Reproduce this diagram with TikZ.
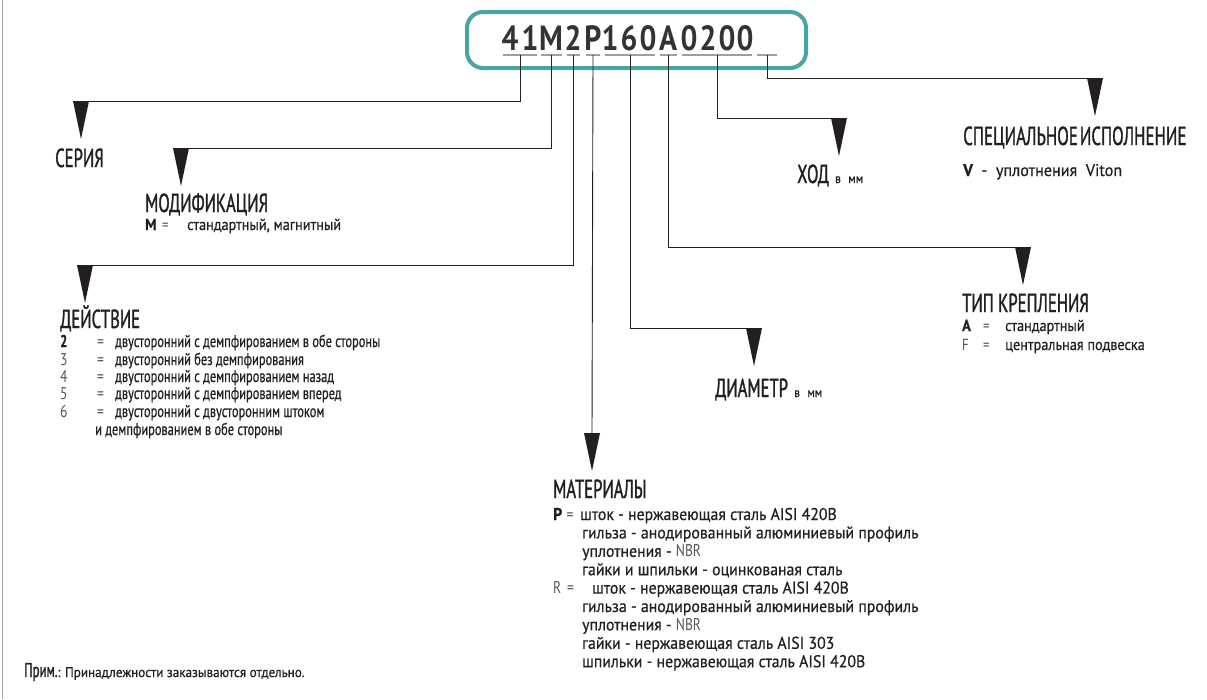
\documentclass[tikz,border=0pt]{standalone}
\usepackage{fontspec}
\setmainfont[FakeStretch=0.8]{PT Sans}
\newfontfamily\titlef[FakeStretch=0.64,FakeBold=1.2]{PT Sans}
\newfontfamily\specf[FakeStretch=0.65,FakeBold=1.2]{PT Sans}
\newfontfamily\codef[FakeStretch=0.85]{PT Sans}
\newfontfamily\actf[FakeStretch=0.73,FakeBold=0.6]{PT Sans}
\newfontfamily\matf[FakeStretch=0.93,FakeBold=0.6]{PT Sans}
\newfontfamily\modf[FakeStretch=0.89,FakeBold=0.6]{PT Sans}
\newfontfamily\vf[FakeStretch=0.95,FakeBold=0.6]{PT Sans}
\newfontfamily\primf[FakeStretch=0.94,FakeBold=0.6]{PT Sans}
\newfontfamily\lightf[FakeStretch=0.8]{PT Sans}
\definecolor{boxteal}{HTML}{49A5A1}
\definecolor{ink}{HTML}{231F20}
\definecolor{codeink}{HTML}{333333}
\definecolor{lightink}{HTML}{555555}
\newcommand\vmm{{\modf\fontsize{13}{13}\selectfont\ \ в\,\, мм}}
\newcommand\eqs{{\lightf\color{lightink}=}}
\begin{document}
\begin{tikzpicture}[x=1pt,y=-1pt,
  lbl/.style={anchor=base west,inner sep=0pt,text=ink},
  title/.style={lbl,text depth=0pt,font=\titlef\fontsize{26}{26}\selectfont},
  act/.style={lbl,font=\actf\fontsize{17}{17}\selectfont},
  mat/.style={lbl,font=\matf\fontsize{17}{17}\selectfont},
  modt/.style={lbl,font=\modf\fontsize{16}{16}\selectfont},
  conn/.style={draw=ink,line width=0.9pt},
  uline/.style={draw=gray!75,line width=1.2pt},
  tri/.pic={\fill[ink] (-8,0) -- (8,0) -- (0,38) -- cycle;},
  codech/.style={anchor=base,inner sep=0pt,font=\codef\bfseries\fontsize{35}{35}\selectfont,text=codeink}]
\useasboundingbox (0,0) rectangle (1207,699);
\draw[gray!70,line width=1.5pt] (2.5,0) -- (2.5,699);

% code box
\node[draw=boxteal,line width=4pt,rounded corners=16pt,minimum width=339pt,minimum height=56pt,inner sep=0pt] (codebox) at (636.5,40) {};
\foreach \c/\x [count=\i] in {4/510,1/530,M/551,2/573,P/593,1/610,6/629,0/648,A/668,0/689,2/708,0/727,0/745}
  \node[codech] (ch\i) at (\x,50) {\c};

% underlines and ticks
\foreach \a/\b/\n in {503/537/t1,541/562/t2,567/580/t3,586/600/t4,605/655/t5,660/677/t6,682/752/t7,757/777/t8}{
  \draw[uline] (\a,55) -- (\b,55);
  \coordinate (\n) at ({(\a+\b)/2},55);
}

% arrow positions
\coordinate (a1) at (81,101);
\coordinate (a2) at (181,148);
\coordinate (a3) at (85,265);
\coordinate (a4) at (592,433);
\coordinate (a5) at (754,328);
\coordinate (a6) at (1023,247);
\coordinate (a7) at (839,118);
\coordinate (a8) at (1095,78);

\draw[conn] (t1) |- (a1);
\draw[conn] (t2) |- (a2);
\draw[conn] (t3) |- (a3);
\draw[conn] (t4 |- t1) -- (a4);
\draw[conn] (t5) |- (a5);
\draw[conn] (t6) |- (a6);
\draw[conn] (t7) |- (a7);
\draw[conn] (t8) |- (a8);
\foreach \n in {a1,a2,a3,a4,a5,a6,a7,a8} \pic at (\n) {tri};

% labels
\node[title] (seria) at (55,167) {СЕРИЯ};

\node[title] (modif) at (145,212) {МОДИФИКАЦИЯ};
\node[modt] (modM) at (145,230) {\bfseries M};
\node[modt] (modE) at (162,230) {\eqs};
\node[modt] (modT) at (187,230) {стандартный, магнитный};

\node[title] (deyst) at (60,328) {ДЕЙСТВИЕ};
\node[act] (d2n) at (60,347) {\bfseries 2};
\node[act] (d3n) at (60,365) {\lightf\color{lightink}3};
\node[act] (d4n) at (60,382) {\lightf\color{lightink}4};
\node[act] (d5n) at (60,399) {\lightf\color{lightink}5};
\node[act] (d6n) at (60,417) {\lightf\color{lightink}6};
\foreach \y in {347,365,382,399,417} \node[act] at (97,\y) {\eqs};
\node[act] (d2) at (115,347) {двусторонний с демпфированием в обе стороны};
\node[act] (d3) at (115,365) {двусторонний без демпфирования};
\node[act] (d4) at (115,382) {двусторонний с демпфированием назад};
\node[act] (d5) at (115,399) {двусторонний с демпфированием вперед};
\node[act] (d6) at (115,417) {двусторонний с двусторонним штоком};
\node[act] (d6b) at (95,435) {и демпфированием в обе стороны};

\node[title] (mat) at (553,498) {МАТЕРИАЛЫ};
\node[mat] (mP) at (553,520) {\bfseries P};
\node[mat] at (566.5,520) {\eqs};
\node[mat] (mP1) at (580,520) {шток - нержавеющая сталь AISI 420B};
\node[mat] (mP2) at (582,538.4) {гильза - анодированный алюминиевый профиль};
\node[mat] (mP3) at (582,556.8) {уплотнения - {\lightf\color{lightink}NBR}};
\node[mat] (mP4) at (582,575.2) {гайки и шпильки - оцинкованая сталь};
\node[mat] (mR) at (553,593.6) {\lightf\color{lightink}R};
\node[mat] at (567,593.6) {\eqs};
\node[mat] (mR1) at (592,593.6) {шток - нержавеющая сталь AISI 420B};
\node[mat] (mR2) at (582,612) {гильза - анодированный алюминиевый профиль};
\node[mat] (mR3) at (582,630.4) {уплотнения - {\lightf\color{lightink}NBR}};
\node[mat] (mR4) at (582,648.8) {гайки - нержавеющая сталь AISI 303};
\node[mat] (mR5) at (582,667.2) {шпильки - нержавеющая сталь AISI 420B};

\node[title] (diam) at (715,397) {ДИАМЕТР\vmm};

\node[title] (tip) at (962,312) {ТИП КРЕПЛЕНИЯ};
\node[modt] (tA) at (962,331) {\bfseries A};
\node[modt] at (983,331) {\eqs};
\node[modt] (tA1) at (1005,331) {стандартный};
\node[modt] (tF) at (962,350) {\lightf\color{lightink}F};
\node[modt] at (983,350) {\eqs};
\node[modt] (tF1) at (1005,350) {центральная подвеска};

\node[title] (hod) at (797,183) {ХОД\vmm};

\node[lbl,text depth=0pt,font=\specf\fontsize{26}{26}\selectfont] (spec) at (963,145) {СПЕЦИАЛЬНОЕ\hspace{2pt}ИСПОЛНЕНИЕ};
\node[lbl,font=\vf\fontsize{17}{17}\selectfont] (specV) at (963,176) {\bfseries V\mdseries\ \ -\ \ уплотнения\ \ Viton};

\node[lbl,font=\titlef\fontsize{20}{20}\selectfont] (prim) at (24,677) {Прим.{\primf\fontsize{14}{14}\selectfont: Принадлежности заказываются отдельно.}};
\end{tikzpicture}
\end{document}
